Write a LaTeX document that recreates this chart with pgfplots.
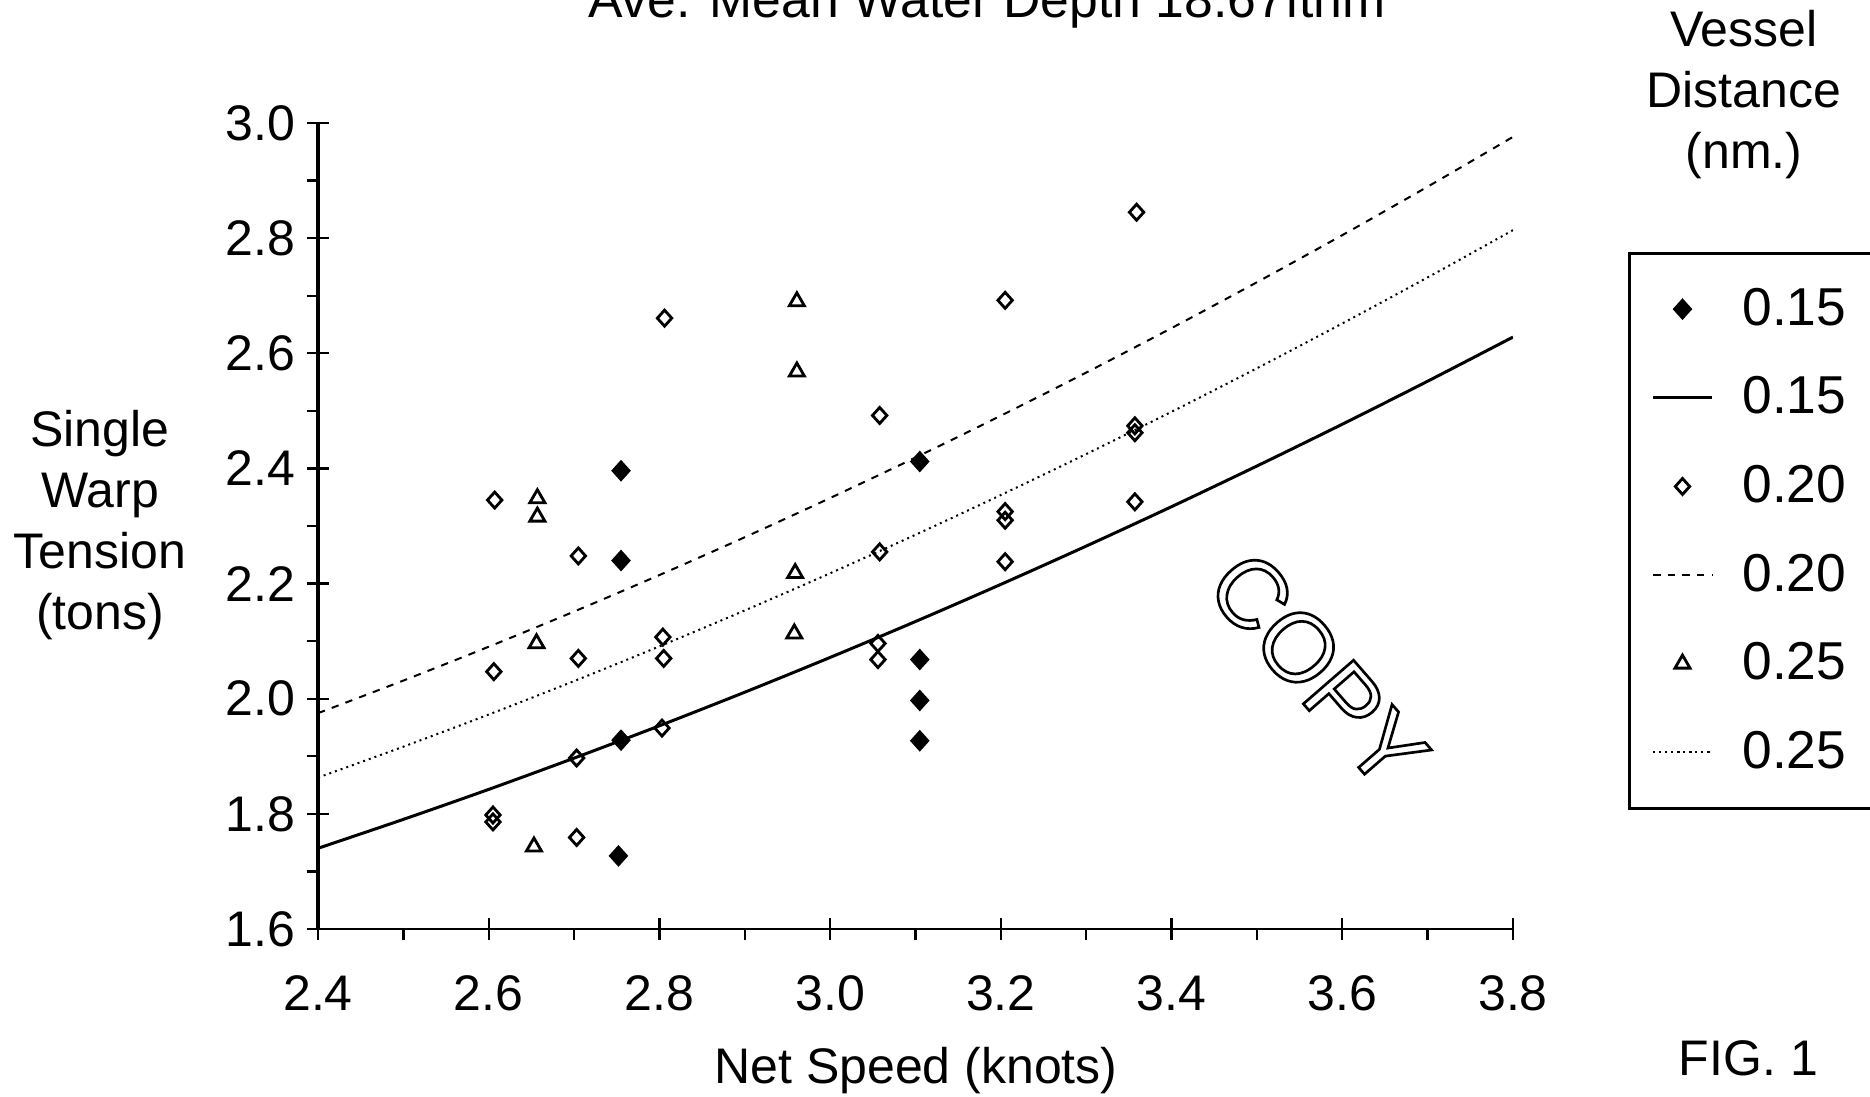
\documentclass[border=0pt]{standalone}
\usepackage{pgfplots}
\pgfplotsset{compat=1.18}
\usepackage{fontspec}
\setmainfont{Liberation Sans}
\begin{document}
\begin{tikzpicture}
\useasboundingbox (0,0) rectangle (561pt,328.8pt);
\begin{axis}[
  scale only axis, width=358.5pt, height=241.8pt,
  at={(95.4pt,50.1pt)}, anchor=south west,
  xmin=2.4, xmax=3.8, ymin=1.6, ymax=3.0,
  axis x line*=bottom, axis y line*=left,
  x axis line style={line width=0.7pt},
  y axis line style={line width=1.1pt},
  xtick={2.4,2.6,2.8,3.0,3.2,3.4,3.6,3.8},
  ytick={1.6,1.8,2.0,2.2,2.4,2.6,2.8,3.0},
  minor x tick num=1, minor y tick num=1,
  tick align=center, major tick length=6.6pt, minor tick length=3.4pt,
  minor x tick style={yshift=-1.7pt}, minor y tick style={xshift=-1.7pt},
  tick style={black, line width=0.7pt},
  /pgf/number format/assume math mode=true,
  xticklabel style={yshift=-7pt, /pgf/number format/.cd, fixed, fixed zerofill, precision=1},
  yticklabel style={/pgf/number format/.cd, fixed, fixed zerofill, precision=1},
  every tick label/.append style={font=\fontsize{15}{18}\selectfont},
  title={Ave. Mean Water Depth 18.67fthm},
  title style={at={(axis description cs:0.5598,1.1055)}, anchor=base, font=\fontsize{15.5}{18}\selectfont},
  xlabel={Net Speed (knots)},
  xlabel style={at={(axis description cs:0.5004,-0.176)}, anchor=center, font=\fontsize{15}{18}\selectfont},
  ylabel={Single\\Warp\\Tension\\(tons)},
  ylabel style={at={(axis description cs:-0.1824,0.501)}, anchor=center, rotate=-90, align=center, font=\fontsize{15}{18.3}\selectfont},
  legend style={at={(axis description cs:1.0962,0.840)}, anchor=north west, draw=black, line width=0.9pt,
    inner xsep=6.6pt, inner ysep=3.4pt, row sep=0pt, column sep=8.7pt,
    font=\fontsize{16}{19}\selectfont,
    nodes={minimum height=26.6pt, inner sep=0pt, text width=90pt}},
  legend cell align=left,
  legend image code/.code={\draw[mark repeat=2,mark phase=2,#1] plot coordinates {(0pt,0pt) (8.85pt,0pt) (17.7pt,0pt)};},
]
% 0.15 points
\addplot[black, only marks, mark=diamond*, mark size=2.9pt, mark options={xscale=1.2, fill=black, draw=black, line width=0.5pt}] coordinates {
(2.755,2.396) (2.755,2.240) (2.755,1.928) (2.752,1.727)
(3.105,2.412) (3.105,2.068) (3.105,1.997) (3.105,1.927)
};
\addlegendentry{0.15}
% 0.15 line
\addplot[black, line width=0.9pt, no marks, smooth] coordinates {
(2.4,1.7402) (2.5,1.7904) (2.6,1.8425) (2.7,1.8968) (2.8,1.9530) (2.9,2.0113) (3.0,2.0717) (3.1,2.1341)
(3.2,2.1986) (3.3,2.2651) (3.4,2.3336) (3.5,2.4042) (3.6,2.4768) (3.7,2.5515) (3.8,2.6282)
};
\addlegendentry{0.15}
% 0.20 points
\addplot[black, only marks, mark=diamond, mark size=2.4pt, mark options={xscale=1.2, line width=0.85pt}] coordinates {
(2.607,2.345) (2.606,2.047) (2.605,1.798) (2.605,1.786)
(2.705,2.248) (2.705,2.070) (2.703,1.897) (2.703,1.759)
(2.806,2.661) (2.804,2.107) (2.805,2.070) (2.803,1.949)
(3.058,2.492) (3.058,2.255) (3.056,2.096) (3.056,2.068)
(3.205,2.692) (3.205,2.325) (3.205,2.310) (3.205,2.238)
(3.359,2.845) (3.357,2.474) (3.357,2.462) (3.357,2.342)
};
\addlegendentry{0.20}
% 0.20 line
\addplot[black, line width=0.6pt, no marks, smooth, dash pattern=on 2.2pt off 2.2pt] coordinates {
(2.4,1.9749) (2.5,2.0315) (2.6,2.0903) (2.7,2.1514) (2.8,2.2148) (2.9,2.2805) (3.0,2.3486) (3.1,2.4189)
(3.2,2.4916) (3.3,2.5665) (3.4,2.6438) (3.5,2.7234) (3.6,2.8052) (3.7,2.8894) (3.8,2.9759)
};
\addlegendentry{0.20}
% 0.25 points
\addplot[black, only marks, mark=triangle, mark size=2.6pt, mark options={line width=0.85pt}] coordinates {
(2.657,2.348) (2.657,2.316) (2.656,2.096) (2.653,1.743)
(2.961,2.690) (2.961,2.568) (2.959,2.218) (2.958,2.113)
};
\addlegendentry{0.25}
% 0.25 line
\addplot[black, line width=0.6pt, no marks, smooth, dash pattern=on 0.6pt off 1.2pt] coordinates {
(2.4,1.8630) (2.5,1.9167) (2.6,1.9725) (2.7,2.0306) (2.8,2.0909) (2.9,2.1533) (3.0,2.2179) (3.1,2.2848)
(3.2,2.3538) (3.3,2.4250) (3.4,2.4984) (3.5,2.5740) (3.6,2.6518) (3.7,2.7318) (3.8,2.8139)
};
\addlegendentry{0.25}
\end{axis}
\node[align=center, font=\fontsize{15}{18.3}\selectfont] at (523.2pt,300.3pt) {Vessel\\Distance\\(nm.)};
\node[font=\fontsize{15}{18}\selectfont] at (524.5pt,11.4pt) {FIG. 1};
\node[rotate=-49, font=\fontsize{29}{30}\selectfont, text=black] at (395.4pt,127.8pt)
  {\special{pdf:literal direct 1 Tr 0.8 w}COPY\special{pdf:literal direct 0 Tr}};
\end{tikzpicture}
\end{document}
